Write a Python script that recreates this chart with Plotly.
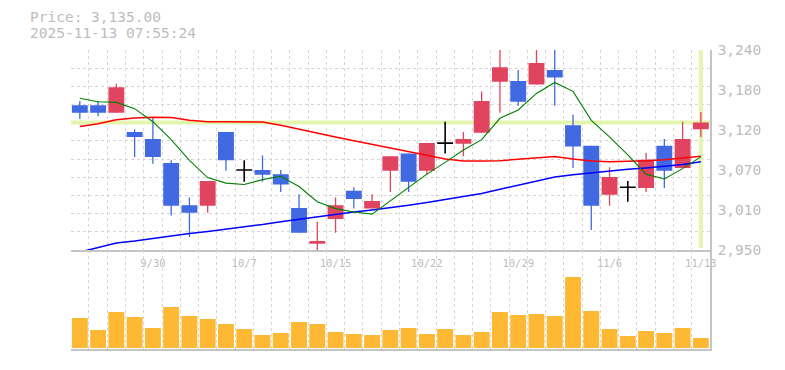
import plotly.graph_objects as go

W, H = 785, 370
OX, OY = 8, 8  # page body margin offset

dates = ['9/24', '9/25', '9/26', '9/29', '9/30', '10/1', '10/2', '10/3', '10/6', '10/7',
         '10/8', '10/9', '10/10', '10/14', '10/15', '10/16', '10/17', '10/20', '10/21', '10/22',
         '10/23', '10/24', '10/27', '10/28', '10/29', '10/30', '10/31', '11/4', '11/5', '11/6',
         '11/7', '11/10', '11/11', '11/12', '11/13']
label_dates = ['9/30', '10/7', '10/15', '10/22', '10/29', '11/6', '11/13']

open_ = [3160, 3160, 3149, 3121, 3111, 3076, 3015, 3014, 3121, 3066,
         3066, 3060, 3011, 2959, 2995, 3036, 3010, 3065, 3090, 3065,
         3105, 3104, 3120, 3194, 3195, 3190, 3211, 3131, 3101, 3030,
         3041, 3040, 3101, 3069, 3125]
high = [3166, 3166, 3191, 3125, 3143, 3080, 3026, 3050, 3121, 3080,
        3087, 3066, 3031, 2991, 3026, 3041, 3031, 3086, 3090, 3105,
        3136, 3121, 3180, 3244, 3211, 3244, 3244, 3146, 3101, 3070,
        3050, 3091, 3111, 3136, 3150]
low = [3140, 3144, 3149, 3085, 3075, 3000, 2969, 3004, 3065, 3049,
       3049, 3034, 2975, 2949, 2975, 3010, 3010, 3034, 3034, 3059,
       3090, 3086, 3120, 3149, 3159, 3190, 3159, 3069, 2979, 3014,
       3020, 3034, 3040, 3069, 3114]
close = [3149, 3149, 3186, 3114, 3085, 3014, 3004, 3050, 3080, 3066,
         3059, 3045, 2975, 2963, 3015, 3024, 3021, 3086, 3049, 3105,
         3105, 3111, 3166, 3215, 3165, 3221, 3200, 3100, 3014, 3056,
         3041, 3081, 3065, 3111, 3135]

ma_short = [3170, 3165, 3164, 3155, 3136, 3110, 3080, 3055, 3047, 3045,
            3052, 3057, 3042, 3020, 3010, 3005, 3002, 3021, 3040, 3060,
            3077, 3095, 3110, 3141, 3153, 3177, 3193, 3180, 3138, 3114,
            3088, 3060, 3053, 3068, 3085]
ma_mid = [3129, 3133, 3139, 3141.5, 3142.5, 3142, 3138, 3136, 3136, 3136,
          3135.5, 3131, 3125, 3119, 3114, 3108.5, 3103.5, 3098, 3093, 3087.5,
          3082, 3079, 3079, 3079.5, 3081.5, 3083.5, 3085.5, 3082, 3079, 3078,
          3078.5, 3079.5, 3081, 3083.5, 3086]
ma_long = [2947, 2954, 2960, 2963, 2967, 2970.5, 2974, 2977, 2980, 2983.5,
           2987, 2991, 2994.5, 2999, 3002, 3005, 3008, 3011, 3015, 3019,
           3023.5, 3028, 3032, 3038, 3044, 3050.5, 3056, 3059, 3062, 3065,
           3067, 3069, 3071, 3074, 3078]

volume = [30, 18, 36, 31, 20, 41, 32, 29, 24, 19,
          13, 15, 26, 24, 16, 14, 13, 18, 20, 14,
          19, 13, 16, 36, 33, 34, 32, 71, 37, 19,
          12, 17, 15, 20, 10]

price_ticks = [2950, 3008, 3066, 3124, 3182, 3240]
price_tick_text = ['2,950', '3,010', '3,070', '3,120', '3,180', '3,240']
last_price = 3135
title_lines = ['Price: 3,135.00', '2025-11-13 07:55:24']

RED = '#E0445E'
BLUE = '#4169E1'
VOL = '#FDB933'
HL = '#E4F5AE'
GRID = '#d6d6d6'
AXIS = '#c4c4c4'
TXT = '#bdbdbd'
FONT = 'DejaVu Sans Mono'
DASH = '3px,3px'

x = list(range(len(dates)))
BW = 0.87


def px(p):
    return (p - OX) / W


def py(p):
    return 1 - (p - OY) / H


fig = go.Figure()

groups = {'up': [], 'down': [], 'doji': []}
for i in x:
    if close[i] > open_[i]:
        groups['up'].append(i)
    elif close[i] < open_[i]:
        groups['down'].append(i)
    else:
        groups['doji'].append(i)

for key, col in (('up', RED), ('down', BLUE)):
    idx = groups[key]
    wx, wy = [], []
    for i in idx:
        wx += [i, i, None]
        wy += [low[i], high[i], None]
    fig.add_trace(go.Scatter(x=wx, y=wy, mode='lines', line=dict(color=col, width=1.3),
                             xaxis='x', yaxis='y', hoverinfo='skip', showlegend=False))
    fig.add_trace(go.Bar(x=idx, y=[abs(close[i] - open_[i]) for i in idx],
                         base=[min(open_[i], close[i]) for i in idx], width=BW,
                         marker=dict(color=col, line=dict(width=0)),
                         xaxis='x', yaxis='y', showlegend=False))

dx, dy = [], []
for i in groups['doji']:
    dx += [i, i, None, i - BW / 2, i + BW / 2, None]
    dy += [low[i], high[i], None, close[i], close[i], None]
fig.add_trace(go.Scatter(x=dx, y=dy, mode='lines', line=dict(color='black', width=1.6),
                         xaxis='x', yaxis='y', hoverinfo='skip', showlegend=False))

for vals, col, w in ((ma_long, '#0000FF', 1.5), (ma_mid, '#FF0000', 1.5), (ma_short, '#008000', 1.1)):
    fig.add_trace(go.Scatter(x=x, y=vals, mode='lines', line=dict(color=col, width=w),
                             xaxis='x', yaxis='y', hoverinfo='skip', showlegend=False))

fig.add_trace(go.Bar(x=x, y=volume, width=BW, marker=dict(color=VOL, line=dict(width=0)),
                     xaxis='x2', yaxis='y2', showlegend=False))

xdom = [px(70.7), px(710)]
fig.update_layout(
    width=W, height=H,
    margin=dict(l=0, r=0, t=0, b=0, pad=0, autoexpand=False),
    paper_bgcolor='white', plot_bgcolor='white',
    barmode='overlay',
    font=dict(family=FONT, color=TXT),
    xaxis=dict(domain=xdom, range=[-0.5, 34.5], anchor='y', automargin=False,
               tickvals=[dates.index(d) for d in label_dates], ticktext=label_dates,
               tickfont=dict(size=10.5, color=TXT, family=FONT), ticks='', ticklabelstandoff=3,
               showgrid=False, zeroline=False, showline=True, linecolor=AXIS, linewidth=1.5,
               minor=dict(tick0=-0.5, dtick=1, showgrid=True, gridcolor=GRID, griddash=DASH, gridwidth=1, ticks='')),
    yaxis=dict(domain=[py(250), py(50)], range=[2950, 3240], side='right', anchor='x', automargin=False,
               tickvals=price_ticks, ticktext=price_tick_text,
               tickfont=dict(size=14.5, color=TXT, family=FONT), ticks='', ticklabelstandoff=3,
               showgrid=False, zeroline=False, showline=True, linecolor=AXIS, linewidth=1.5,
               minor=dict(tick0=2950, dtick=290 / 11, showgrid=True, gridcolor=GRID, griddash=DASH, gridwidth=1, ticks='')),
    xaxis2=dict(domain=xdom, range=[-0.5, 34.5], anchor='y2', matches='x', automargin=False,
                showticklabels=False, ticks='', showgrid=False, zeroline=False,
                showline=True, linecolor=AXIS, linewidth=1.5,
                minor=dict(tick0=-0.5, dtick=1, showgrid=True, gridcolor=GRID, griddash=DASH, gridwidth=1, ticks='')),
    yaxis2=dict(domain=[py(349), py(250)], range=[-1, 98], side='right', anchor='x2', automargin=False,
                showticklabels=False, ticks='', showgrid=False, zeroline=False,
                showline=True, linecolor=AXIS, linewidth=1.5),
)

fig.add_shape(type='line', xref='x', yref='y', x0=-0.5, x1=34.5, y0=last_price, y1=last_price,
              line=dict(color=HL, width=4), layer='between')
fig.add_shape(type='line', xref='x', yref='y', x0=34, x1=34, y0=2953, y1=3240,
              line=dict(color=HL, width=4), layer='between')

for k, t in enumerate(title_lines):
    fig.add_annotation(text=t, xref='paper', yref='paper', x=px(29), y=py(17 + 16 * k),
                       xanchor='left', yanchor='middle', showarrow=False, borderpad=0,
                       font=dict(size=14.5, color=TXT, family=FONT))

fig.write_html('out.html')
